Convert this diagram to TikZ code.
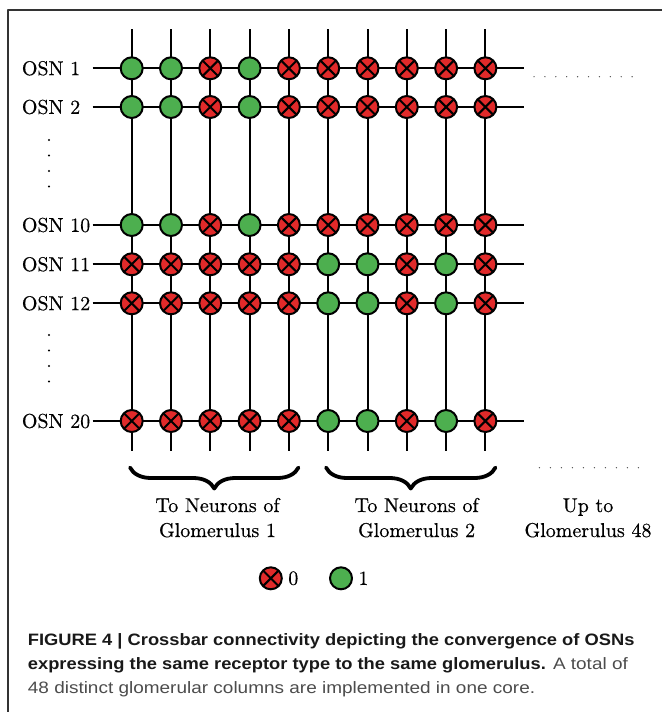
\documentclass[tikz,border=0pt]{standalone}
\usepackage{fontspec}
\newfontfamily\lblfont{lmroman10-regular.otf}[FakeBold=0.5]
\newfontfamily\capfont{Liberation Sans}[FakeStretch=1.15]
\newfontfamily\capboldfont{Liberation Sans Bold}[FakeStretch=1.11]
\usetikzlibrary{positioning,decorations.pathreplacing}
\definecolor{synred}{HTML}{E12A2A}
\definecolor{syngreen}{HTML}{4DAF4F}
\begin{document}
\begin{tikzpicture}[x=1pt,y=-1pt, font=\lblfont\fontsize{20}{24}\selectfont, line join=round, line cap=round,
		wire/.style={line width=2pt},
		syn/.style={circle, draw, line width=2pt, minimum size=22pt, inner sep=0pt},
		bit1/.style={syn, fill=syngreen},
		bit0/.style={syn, fill=synred, path picture={\draw[line width=2pt] (path picture bounding box.north west)--(path picture bounding box.south east) (path picture bounding box.north east)--(path picture bounding box.south west);}},
		lab/.style={inner sep=0pt, anchor=base},
		captxt/.style={inner sep=0pt, anchor=base west, text=black!90, font=\capfont\fontsize{16.5}{24}\selectfont}]
	\useasboundingbox (0,0) rectangle (662,712);
	\draw[line width=1.3pt, black!80, line cap=butt] (8,712) |- (662,10);
	\foreach \i in {0,...,9}{
		\coordinate (top\i) at (131.7+39.3*\i,29);
		\coordinate (bot\i) at (131.7+39.3*\i,451);
		\draw[wire, line cap=butt] (top\i)--(bot\i);
	}
	\foreach \y/\n/\bits in {68.3/1/{1,1,0,1,0,0,0,0,0,0}, 107/2/{1,1,0,1,0,0,0,0,0,0}, 225/10/{1,1,0,1,0,0,0,0,0,0}, 264.3/11/{0,0,0,0,0,1,1,0,1,0}, 303.3/12/{0,0,0,0,0,1,1,0,1,0}, 421/20/{0,0,0,0,0,1,1,0,1,0}}{
		\node[anchor=west, inner sep=0pt] (osn\n) at (21.7,\y) {OSN \n};
		\coordinate (in\n) at (92.7,\y);
		\coordinate (out\n) at (524.3,\y);
		\draw[wire, line cap=butt] (in\n)--(out\n);
		\foreach \b [count=\i from 0] in \bits
			\node[bit\b] (s\n-\i) at (131.7+39.3*\i,\y) {};
	}
	\foreach \y in {140,155.5,171,186.5,335,350.5,366,381.5}
		\fill (49,\y) circle (1.2pt);
	\foreach \i in {0,...,9}{
		\fill[black!70] (534+10.9*\i,76.7) circle (0.7pt);
		\fill[black!70] (539.4+11*\i,467.7) circle (0.7pt);
	}
	\coordinate (br1a) at (130,467.5);
	\coordinate (br1b) at (298.5,467.5);
	\coordinate (br2a) at (326,467.5);
	\coordinate (br2b) at (495.5,467.5);
	\draw[decorate, decoration={brace, mirror, amplitude=21pt}, line width=3.8pt] (br1a)--(br1b);
	\draw[decorate, decoration={brace, mirror, amplitude=21pt}, line width=3.8pt] (br2a)--(br2b);
	\node[lab] (to1) at (217.5,512) {To Neurons of};
	\node[lab] (gl1) at (217.5,537) {Glomerulus 1};
	\node[lab] (to2) at (416.6,512) {To Neurons of};
	\node[lab] (gl2) at (416.6,537) {Glomerulus 2};
	\node[lab] (upto) at (588,512) {Up to};
	\node[lab] (gl48) at (588,537) {Glomerulus 48};
	\node[bit0] (key0) at (270.8,578.3) {};
	\node[right=2pt of key0] (v0) {0};
	\node[bit1] (key1) at (341,578.3) {};
	\node[right=2pt of key1] (v1) {1};
	\node[captxt] (cap1) at (27.7,645.7) {\capboldfont FIGURE 4 | Crossbar connectivity depicting the convergence of OSNs};
	\node[captxt] (cap2) at (27.7,669.7) {{\capboldfont expressing the same receptor type to the same glomerulus.} {\color{black!70}A total of}};
	\node[captxt, text=black!70] (cap3) at (27.7,693.7) {48 distinct glomerular columns are implemented in one core.};
\end{tikzpicture}
\end{document}
